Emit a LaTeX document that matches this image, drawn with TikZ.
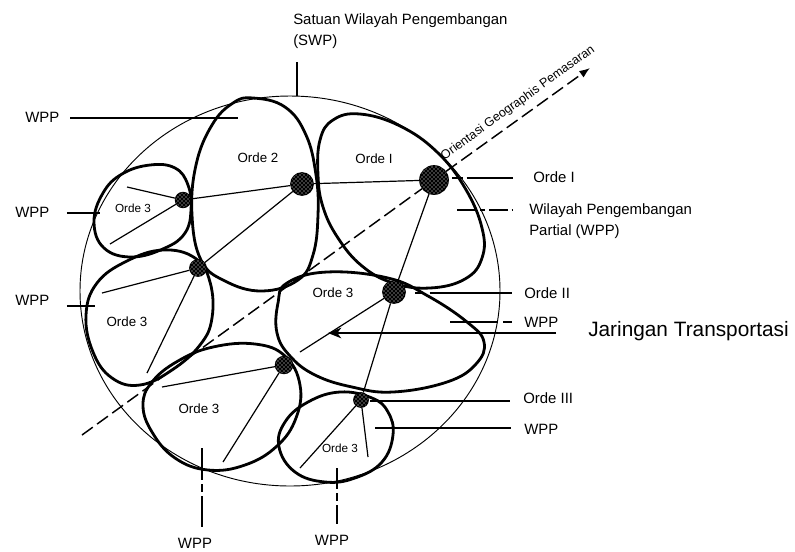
\documentclass[tikz,border=0pt]{standalone}
\usepackage{fontspec}
\setmainfont{Liberation Sans}
\usetikzlibrary{arrows.meta,patterns}

\tikzset{
  blob/.style={line width=2.1pt, line join=round},
  wire/.style={line width=0.9pt},
  leader/.style={line width=0.8pt},
  orient/.style={line width=1.1pt, dash pattern=on 10pt off 4pt},
  towndot/.style={circle, draw=black, line width=1.3pt, fill=black, inner sep=0pt,
    postaction={pattern=crosshatch dots, pattern color=white}},
  lbl/.style={font=\fontsize{11.2}{15.75}\selectfont, inner sep=0pt},
  inlbl/.style={font=\fontsize{10}{12}\selectfont, inner sep=0pt},
  smlbl/.style={font=\fontsize{8.8}{10}\selectfont, inner sep=0pt},
}

\begin{document}
\begin{tikzpicture}[x=0.75pt, y=-0.75pt]
  \useasboundingbox (0,0) rectangle (795,551);

  % the SWP boundary
  \draw[line width=0.7pt] (290,291) ellipse [x radius=210, y radius=195];

  % partial regions (WPP)
  \draw[blob] plot[smooth cycle, tension=0.7] coordinates {(253,98) (285,107) (306,135) (316,175) (318,215) (313,255) (298,280) (262,291) (225,281) (201,260) (192,215) (196,165) (212,125) (233,103)};
  \draw[blob] plot[smooth cycle, tension=0.7] coordinates {(318,175) (320,140) (333,120) (360,114) (400,126) (437,152) (465,188) (482,228) (482,258) (465,279) (430,288) (393,283) (362,266) (338,238) (323,207)};
  \draw[blob] plot[smooth cycle, tension=0.7] coordinates {(150,165) (175,168) (188,185) (191,210) (185,233) (165,248) (132,257) (104,248) (94,222) (103,193) (122,174)};
  \draw[blob] plot[smooth cycle, tension=0.7] coordinates {(163,250) (195,258) (210,282) (212,318) (200,345) (172,370) (140,385) (112,378) (93,352) (86,315) (97,283) (127,261)};
  \draw[blob] plot[smooth cycle, tension=0.7] coordinates {(213,347) (255,344) (285,356) (300,385) (296,418) (277,446) (245,465) (208,470) (175,458) (152,432) (143,405) (152,382) (178,361)};
  \draw[blob] plot[smooth cycle, tension=0.7] coordinates {(287,283) (327,272) (388,278) (428,296) (467,322) (484,342) (476,364) (447,382) (393,392) (352,387) (315,375) (290,356) (277,333) (278,303)};
  \draw[blob] plot[smooth cycle, tension=0.7] coordinates {(340,392) (372,398) (388,412) (393,435) (382,462) (355,478) (325,482) (295,472) (279,447) (285,422) (308,402)};

  % centres
  \node[towndot, minimum size=21pt]   (dOrdeI)   at (434,180) {};
  \node[towndot, minimum size=16.5pt] (dOrde2)   at (302,184) {};
  \node[towndot, minimum size=11pt]   (d3a)      at (183,200) {};
  \node[towndot, minimum size=12pt]   (d3b)      at (198,268) {};
  \node[towndot, minimum size=16.5pt] (dOrdeII)  at (394,292) {};
  \node[towndot, minimum size=12.5pt] (d3c)      at (284,365) {};
  \node[towndot, minimum size=10.5pt] (dOrdeIII) at (361,400) {};

  % free ends of the transport lines
  \coordinate (e1) at (127,187);
  \coordinate (e2) at (110,244);
  \coordinate (e3) at (102,293);
  \coordinate (e4) at (147,373);
  \coordinate (e5) at (162,387);
  \coordinate (e6) at (223,462);
  \coordinate (e7) at (300,352);
  \coordinate (e8) at (300,468);
  \coordinate (e9) at (368,457);

  \foreach \a/\b in {d3a/e1, d3a/e2, d3a/dOrde2, dOrde2/d3b, dOrde2/dOrdeI,
                     d3b/e3, d3b/e4, d3c/e5, d3c/e6, dOrdeI/dOrdeII,
                     dOrdeII/e7, dOrdeII/dOrdeIII, dOrdeIII/e8, dOrdeIII/e9}
    \draw[wire] (\a) -- (\b);

  % market orientation
  \coordinate (oriStart) at (82,435);
  \coordinate (oriEnd) at (590,68);
  \draw[orient] (oriStart) -- (dOrdeI);
  \draw[orient, -{Latex[length=8pt, width=6pt]}] (dOrdeI) -- (oriEnd);
  \node[font=\fontsize{9.4}{11}\selectfont, rotate=35.8, inner sep=0pt] (oriText) at (518,103) {Orientasi Geographis Pemasaran};

  % region labels
  \node[inlbl] (tOrde2) at (258,158) {Orde 2};
  \node[inlbl] (tOrdeI) at (374,159) {Orde I};
  \node[smlbl] (t3a)    at (133,208) {Orde 3};
  \node[inlbl] (t3b)    at (127,322) {Orde 3};
  \node[inlbl] (t3c)    at (199,409) {Orde 3};
  \node[inlbl] (t3d)    at (333,293) {Orde 3};
  \node[smlbl] (t3e)    at (340,448) {Orde 3};

  % top label
  \node[lbl, anchor=north west, align=left] (swp) at (293,13) {Satuan Wilayah Pengembangan\\(SWP)};
  \coordinate (pSwp) at (297,62);
  \draw[leader] (pSwp) -- (297,96);

  % left labels
  \node[lbl, anchor=west] (lW1) at (25,117) {WPP};
  \node[lbl, anchor=west] (lW2) at (15,212) {WPP};
  \node[lbl, anchor=west] (lW3) at (15,300) {WPP};
  \coordinate (pW1) at (238,118);
  \coordinate (pW2) at (100,213);
  \coordinate (pW3) at (95,306);
  \draw[leader, shorten <=8pt] (lW1.east |- pW1) -- (pW1);
  \draw[leader, shorten <=13pt] (lW2.east |- pW2) -- (pW2);
  \draw[leader, shorten <=13pt] (lW3.east |- pW3) -- (pW3);

  % bottom labels
  \node[lbl] (lB1) at (195,543) {WPP};
  \node[lbl] (lB2) at (332,540) {WPP};
  \coordinate (pB1) at (202,448);
  \coordinate (pB2) at (337,468);
  \draw[leader, dash pattern=on 24pt off 3pt on 6pt off 3pt, shorten >=8pt] (pB1) -- (pB1 |- lB1.north);
  \draw[leader, dash pattern=on 16pt off 3pt on 6pt off 3pt, shorten >=8pt] (pB2) -- (pB2 |- lB2.north);

  % right labels
  \node[lbl, anchor=west] (lOrdeI)   at (533,177) {Orde I};
  \node[lbl, anchor=north west, align=left] (lWil) at (529,203) {Wilayah Pengembangan\\Partial (WPP)};
  \node[lbl, anchor=west] (lOrdeII)  at (524,293) {Orde II};
  \node[lbl, anchor=west] (lW4)      at (524,322) {WPP};
  \node[lbl, anchor=west] (lOrdeIII) at (523,398) {Orde III};
  \node[lbl, anchor=west] (lW5)      at (524,429) {WPP};
  \coordinate (pOrdeI)   at (452,178);
  \coordinate (pWil)     at (457,210);
  \coordinate (pOrdeII)  at (415,293);
  \coordinate (pW4)      at (450,322);
  \coordinate (pOrdeIII) at (370,401);
  \coordinate (pW5)      at (375,428);
  \draw[leader, dash pattern=on 8pt off 3pt on 40pt off 0pt, shorten >=15pt] (pOrdeI) -- (pOrdeI -| lOrdeI.west);
  \draw[leader, dash pattern=on 14pt off 3pt on 4pt off 3pt, shorten >=12pt] (pWil) -- (pWil -| lWil.west);
  \draw[leader, dash pattern=on 6pt off 5pt on 70pt off 0pt, shorten >=9pt] (pOrdeII) -- (pOrdeII -| lOrdeII.west);
  \draw[leader, dash pattern=on 36pt off 4pt, shorten >=9pt] (pW4) -- (pW4 -| lW4.west);
  \draw[leader, shorten >=10pt] (pOrdeIII) -- (pOrdeIII -| lOrdeIII.west);
  \draw[leader, shorten >=10pt] (pW5) -- (pW5 -| lW5.west);

  % transport network arrow
  \node[font=\fontsize{15.6}{18}\selectfont, inner sep=0pt, anchor=west] (jt) at (588,331) {Jaringan Transportasi};
  \coordinate (jtTip) at (328,333);
  \draw[line width=1pt, -{Stealth[length=10pt, width=8pt, inset=3pt]}, shorten <=24pt] (jt.west |- jtTip) -- (jtTip);
\end{tikzpicture}
\end{document}
